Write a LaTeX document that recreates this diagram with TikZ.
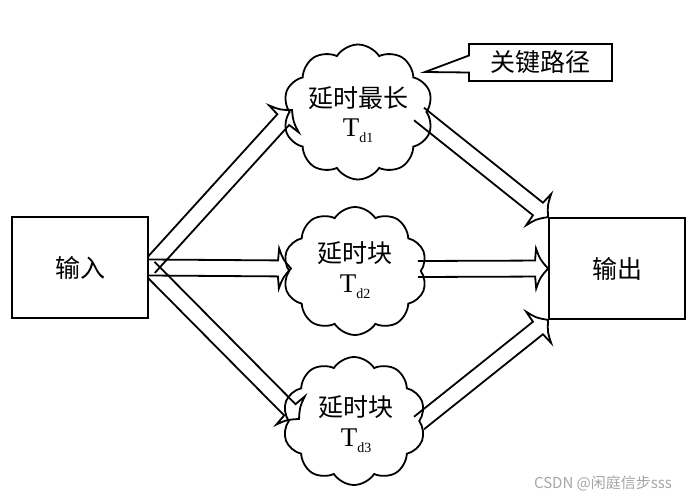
\documentclass[tikz,border=0pt]{standalone}
\usepackage{fontspec}
\setmainfont{Liberation Serif}
\newfontfamily\cjk{Noto Sans CJK SC}
\usetikzlibrary{shapes.symbols,shapes.callouts,calc}
\begin{document}
\begin{tikzpicture}[x=1pt,y=-1pt,
  box/.style={draw, line width=1.8pt, minimum width=136pt, minimum height=101pt, inner sep=0pt,
    font=\cjk\fontsize{25}{30}\selectfont},
  puff/.style={cloud, draw, line width=1.8pt, cloud puffs=10, cloud puff arc=115, inner sep=0pt,
    fill=white, align=center},
  arr/.style={draw, line width=1.8pt, line join=miter},
  cjkt/.style={font=\cjk\fontsize{25}{30}\selectfont},
]
\newcommand\harr[2]{%
  \draw[arr] let \p1=($(#2)-(#1)$), \n1={atan2(\y1,\x1)}, \n2={veclen(\x1,\y1)} in
    {[shift={(#1)}, rotate=\n1]
      (0,8) -- ({\n2-13},8) -- ({\n2-12},20) .. controls ({\n2-8},9) .. ({\n2},0)
      .. controls ({\n2-8},-9) .. ({\n2-12},-20) -- ({\n2-13},-8) -- (0,-8)};}
\useasboundingbox (0,0) rectangle (700,500);
\fill[white] (0,0) rectangle (700,500);

\node[box] (in) at (80,267.5) {输入};
\node[box] (out) at (617,268.5) {输出};

\node[puff, minimum width=150pt, minimum height=135pt] (c1) at (358,112) {};
\node[puff, minimum width=144pt, minimum height=128pt] (c2) at (355,271) {};
\node[puff, minimum width=143pt, minimum height=128pt] (c3) at (354,421) {};

\newcommand\tdtext[1]{\fontsize{27}{30}\selectfont T\raisebox{-0.45ex}{\fontsize{14}{15}\selectfont #1}}
\node[cjkt] (l1a) at (358,98) {延时最长};
\node (l1b) at (358,131) {\tdtext{d1}};
\node[cjkt] (l2a) at (355,253) {延时块};
\node (l2b) at (355,287) {\tdtext{d2}};
\node[cjkt] (l3a) at (356,407) {延时块};
\node (l3b) at (356,441) {\tdtext{d3}};

\coordinate (t1) at (292,110);
\coordinate (t2) at (291,268.5);
\coordinate (t3) at (299,419);
\coordinate (s4) at (419,114);
\coordinate (s5) at (418,269);
\coordinate (s6) at (419,423);

\begin{scope}
  \clip (149,0) rectangle (700,500);
  \harr{in.east}{t1}
  \harr{in.east}{t3}
  \harr{in.east}{t2}
\end{scope}
\harr{s4}{out.north west}
\harr{s5}{out.west}
\harr{s6}{out.south west}

\node[draw, line width=1.8pt, fill=white, rectangle callout, callout absolute pointer={(425,72)},
  callout pointer width=17pt, minimum width=143pt, minimum height=37pt, inner sep=0pt, cjkt]
  (cp) at (540.5,62.5) {关键路径};

\node[text=gray!70, font=\cjk\fontsize{15}{18}\selectfont] (wm) at (603,483) {CSDN @闲庭信步sss};
\end{tikzpicture}
\end{document}
